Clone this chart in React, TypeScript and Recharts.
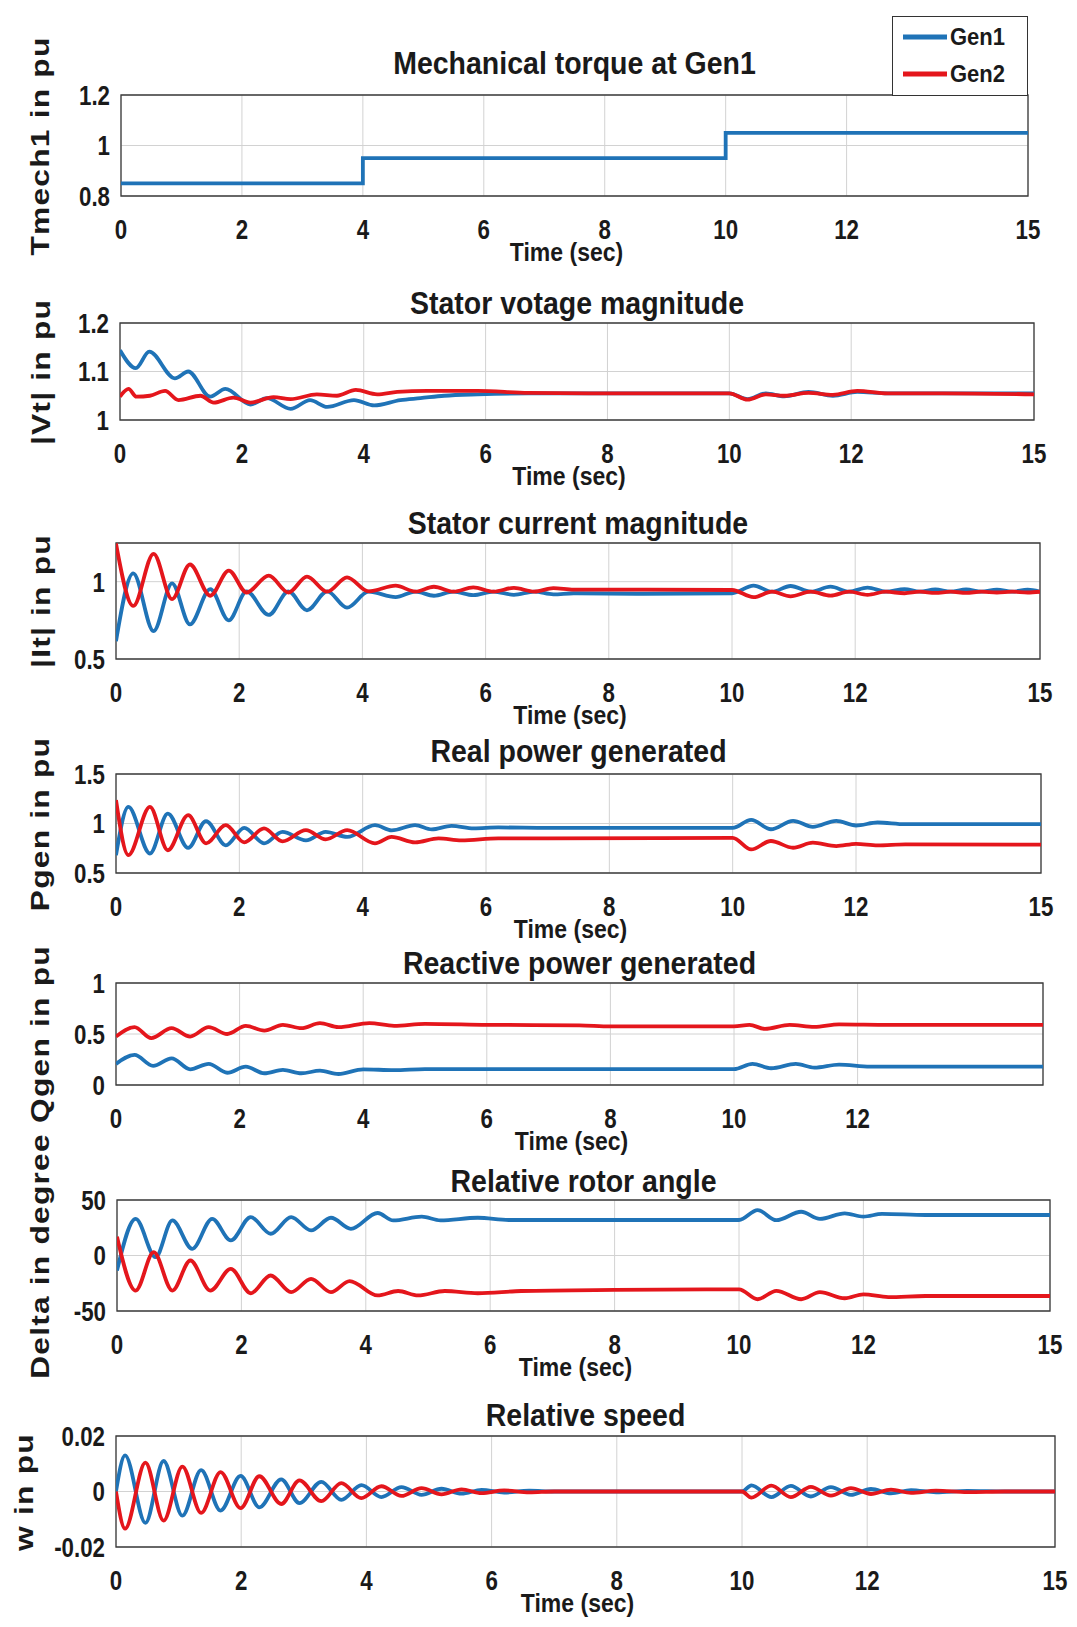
import { CartesianGrid, Line, LineChart, ReferenceArea, XAxis, YAxis } from "recharts";

type Pt = [number, number];

const BLUE = "#1f73b7";
const RED = "#e4161c";
const INK = "#1a1a1a";
const FONT = "'Liberation Sans', Arial, Helvetica, sans-serif";

// time ticks (sec)
const timeTicks = [0, 2, 4, 6, 8, 10, 12, 15];
const timeTicksQ = [0, 2, 4, 6, 8, 10, 12];

// Mechanical torque at Gen1
const tmechGen1: Pt[] = [[0, 0.85], [4, 0.95], [10, 1.05], [15, 1.05]];

// Stator voltage magnitude
const vtGen1: Pt[] = [
  [0, 1.144], [0.26, 1.107], [0.48, 1.141], [0.9, 1.086], [1.12, 1.1], [1.48, 1.048], [1.73, 1.064],
  [2.14, 1.032], [2.41, 1.045], [2.8, 1.023], [3.12, 1.041], [3.4, 1.027], [3.84, 1.041], [4.17, 1.03],
  [4.6, 1.041], [4.93, 1.045], [5.32, 1.05], [5.87, 1.053], [6.7, 1.055], [8, 1.055], [10, 1.055],
  [10.3, 1.043], [10.6, 1.055], [10.9, 1.049], [11.3, 1.058], [11.7, 1.05], [12.1, 1.058], [12.6, 1.055],
  [13.5, 1.055], [15, 1.055],
];
const vtGen2: Pt[] = [
  [0, 1.048], [0.14, 1.064], [0.27, 1.048], [0.49, 1.05], [0.74, 1.06], [0.96, 1.041], [1.32, 1.05],
  [1.54, 1.036], [1.86, 1.046], [2.14, 1.036], [2.52, 1.047], [2.8, 1.043], [3.23, 1.053], [3.56, 1.05],
  [3.87, 1.062], [4.22, 1.053], [4.55, 1.058], [5.04, 1.06], [5.87, 1.06], [6.7, 1.056], [8, 1.055],
  [10, 1.055], [10.3, 1.042], [10.6, 1.053], [10.9, 1.05], [11.3, 1.056], [11.7, 1.052], [12.1, 1.06],
  [12.6, 1.055], [13.5, 1.055], [15, 1.053],
];

// Stator current magnitude
const itGen1: Pt[] = [
  [0, 0.615], [0.28, 1.054], [0.61, 0.68], [0.91, 0.989], [1.2, 0.724], [1.53, 0.952], [1.83, 0.75],
  [2.12, 0.937], [2.48, 0.785], [2.8, 0.937], [3.1, 0.815], [3.43, 0.937], [3.75, 0.832], [4.1, 0.935],
  [4.54, 0.9], [4.86, 0.936], [5.16, 0.909], [5.48, 0.936], [5.8, 0.913], [6.13, 0.936], [6.46, 0.915],
  [6.79, 0.936], [7.1, 0.918], [7.43, 0.925], [8.5, 0.922], [10, 0.925], [10.35, 0.975], [10.65, 0.935],
  [10.95, 0.972], [11.28, 0.935], [11.6, 0.968], [11.9, 0.935], [12.2, 0.962], [12.5, 0.935], [12.8, 0.952],
  [13.05, 0.935], [13.3, 0.95], [13.55, 0.935], [13.8, 0.95], [14.05, 0.935], [14.3, 0.948], [14.55, 0.935],
  [14.8, 0.948], [15, 0.935],
];
const itGen2: Pt[] = [
  [0, 1.246], [0.28, 0.843], [0.61, 1.18], [0.91, 0.887], [1.2, 1.111], [1.53, 0.909], [1.83, 1.072],
  [2.12, 0.93], [2.48, 1.039], [2.8, 0.93], [3.1, 1.033], [3.43, 0.935], [3.75, 1.028], [4.1, 0.937],
  [4.54, 0.974], [4.86, 0.936], [5.16, 0.967], [5.48, 0.936], [5.8, 0.963], [6.13, 0.936], [6.46, 0.96],
  [6.79, 0.936], [7.1, 0.958], [7.43, 0.948], [8.5, 0.948], [10, 0.946], [10.35, 0.9], [10.65, 0.935],
  [10.95, 0.905], [11.28, 0.935], [11.6, 0.91], [11.9, 0.935], [12.2, 0.915], [12.5, 0.935], [12.8, 0.925],
  [13.05, 0.935], [13.3, 0.927], [13.55, 0.935], [13.8, 0.928], [14.05, 0.935], [14.3, 0.93], [14.55, 0.935],
  [14.8, 0.93], [15, 0.935],
];

// Real power generated
const pGen1: Pt[] = [
  [0, 0.68], [0.2, 1.168], [0.55, 0.697], [0.84, 1.1], [1.17, 0.754], [1.46, 1.024], [1.78, 0.78],
  [2.08, 0.956], [2.4, 0.8], [2.7, 0.916], [3.08, 0.83], [3.4, 0.916], [3.75, 0.865], [4.2, 0.983],
  [4.47, 0.93], [4.85, 0.983], [5.12, 0.94], [5.44, 0.976], [5.8, 0.95], [6.2, 0.96], [7, 0.955],
  [10, 0.955], [10.3, 1.037], [10.62, 0.942], [10.98, 1.027], [11.3, 0.966], [11.68, 1.027], [12, 0.98],
  [12.35, 1.01], [12.8, 0.993], [15, 0.993],
];
const pGen2: Pt[] = [
  [0, 1.236], [0.2, 0.68], [0.55, 1.168], [0.84, 0.73], [1.17, 1.084], [1.46, 0.8], [1.78, 0.983],
  [2.08, 0.81], [2.4, 0.95], [2.7, 0.82], [3.08, 0.933], [3.4, 0.84], [3.75, 0.933], [4.2, 0.8],
  [4.47, 0.865], [4.85, 0.81], [5.23, 0.85], [5.6, 0.83], [6.2, 0.85], [7, 0.85], [10, 0.855],
  [10.3, 0.738], [10.62, 0.823], [10.98, 0.755], [11.3, 0.806], [11.68, 0.772], [12, 0.795],
  [12.35, 0.78], [12.8, 0.79], [15, 0.787],
];

// Reactive power generated
const qGen1: Pt[] = [
  [0, 0.207], [0.3, 0.295], [0.6, 0.187], [0.9, 0.262], [1.2, 0.154], [1.5, 0.207], [1.8, 0.12],
  [2.1, 0.18], [2.4, 0.115], [2.7, 0.148], [3, 0.115], [3.3, 0.14], [3.6, 0.108], [4, 0.154],
  [4.5, 0.145], [5, 0.155], [7, 0.155], [10, 0.155], [10.3, 0.207], [10.6, 0.164], [11, 0.207],
  [11.3, 0.17], [11.7, 0.2], [12.2, 0.18], [15, 0.18],
];
const qGen2: Pt[] = [
  [0, 0.475], [0.3, 0.567], [0.57, 0.46], [0.9, 0.557], [1.2, 0.475], [1.5, 0.567], [1.8, 0.5],
  [2.1, 0.58], [2.4, 0.534], [2.7, 0.59], [3, 0.557], [3.3, 0.607], [3.6, 0.567], [4.1, 0.607],
  [4.5, 0.58], [5, 0.6], [6, 0.59], [7.5, 0.585], [8, 0.575], [10, 0.575], [10.25, 0.59], [10.5, 0.55],
  [10.9, 0.59], [11.3, 0.57], [11.7, 0.595], [12.5, 0.59], [15, 0.59],
];

// Relative rotor angle (degree)
const deltaGen1: Pt[] = [
  [0, -13.6], [0.3, 33], [0.62, -1.5], [0.89, 31.6], [1.21, 6], [1.53, 33], [1.83, 13.6], [2.15, 34.6],
  [2.47, 19.6], [2.8, 34.6], [3.12, 22.6], [3.44, 34], [3.76, 24], [4.19, 38.3], [4.44, 31.6], [4.9, 35],
  [5.2, 31.6], [5.8, 34], [6.3, 32], [7.6, 32], [10, 32], [10.3, 40.9], [10.6, 31.8], [11, 39.4],
  [11.3, 33], [11.7, 38], [12, 35], [12.3, 37.5], [13, 36.5], [15, 36.5],
];
const deltaGen2: Pt[] = [
  [0, 17], [0.3, -31.6], [0.59, 3], [0.89, -31.6], [1.18, -4.5], [1.5, -31.6], [1.83, -12], [2.15, -34],
  [2.47, -18], [2.8, -33], [3.12, -21], [3.44, -33], [3.74, -23], [4.19, -36], [4.52, -32], [4.84, -36],
  [5.27, -32], [5.8, -34], [6.5, -32], [8, -31], [10, -30.5], [10.3, -39.4], [10.6, -31.8], [11, -39.4],
  [11.3, -33], [11.7, -38.5], [12, -35], [12.4, -37.5], [13, -36.5], [15, -36.5],
];

// Relative speed (pu)
const wGen1: Pt[] = [
  [0, 0], [0.145, 0.013], [0.47, -0.0113], [0.76, 0.011], [1.06, -0.0087], [1.36, 0.0077],
  [1.67, -0.0069], [1.99, 0.0056], [2.29, -0.0057], [2.64, 0.0044], [2.93, -0.0042], [3.28, 0.0035],
  [3.6, -0.003], [3.92, 0.0023], [4.24, -0.002], [4.56, 0.0016], [4.88, -0.0012], [5.2, 0.001],
  [5.52, -0.0008], [5.84, 0.0006], [6.2, -0.0004], [6.6, 0.0003], [7, 0], [10, 0], [10.15, 0.0022],
  [10.47, -0.002], [10.78, 0.002], [11.1, -0.0018], [11.42, 0.0016], [11.74, -0.0012], [12.06, 0.0009],
  [12.38, -0.0007], [12.7, 0.0005], [13.1, -0.0003], [13.6, 0.0002], [14.2, 0], [15, 0],
];
const wGen2: Pt[] = [
  [0, 0], [0.145, -0.0134], [0.47, 0.0104], [0.76, -0.0105], [1.06, 0.009], [1.36, -0.0077],
  [1.67, 0.007], [1.99, -0.006], [2.29, 0.0055], [2.64, -0.0045], [2.93, 0.004], [3.28, -0.0035],
  [3.6, 0.003], [3.92, -0.0024], [4.24, 0.0019], [4.56, -0.0016], [4.88, 0.0012], [5.2, -0.001],
  [5.52, 0.0008], [5.84, -0.0006], [6.2, 0.0004], [6.6, -0.0003], [7, 0], [10, 0], [10.15, -0.0022],
  [10.47, 0.0021], [10.78, -0.002], [11.1, 0.0017], [11.42, -0.0015], [11.74, 0.0012], [12.06, -0.0009],
  [12.38, 0.0007], [12.7, -0.0005], [13.1, 0.0003], [13.6, -0.0002], [14.2, 0], [15, 0],
];

const legendNames = ["Gen1", "Gen2"];

type Panel = {
  title: string;
  ylabel: string;
  box: [number, number, number, number]; // left, top, right, bottom (px)
  titleY: number;
  labelX: number;
  yDomain: [number, number];
  yTicks: number[];
  xTicks: number[];
  gen1: Pt[];
  gen2?: Pt[];
  step?: boolean;
};

const panels: Panel[] = [
  { title: "Mechanical torque at Gen1", ylabel: "Tmech1 in pu", box: [121, 95, 1028, 196], titleY: 64, labelX: 40,
    yDomain: [0.8, 1.2], yTicks: [0.8, 1, 1.2], xTicks: timeTicks, gen1: tmechGen1, step: true },
  { title: "Stator votage magnitude", ylabel: "|Vt| in pu", box: [120, 323, 1034, 420], titleY: 304, labelX: 41,
    yDomain: [1, 1.2], yTicks: [1, 1.1, 1.2], xTicks: timeTicks, gen1: vtGen1, gen2: vtGen2 },
  { title: "Stator current magnitude", ylabel: "|It| in pu", box: [116, 543, 1040, 659], titleY: 524, labelX: 41,
    yDomain: [0.5, 1.25], yTicks: [0.5, 1], xTicks: timeTicks, gen1: itGen1, gen2: itGen2 },
  { title: "Real power generated", ylabel: "Pgen in pu", box: [116, 774, 1041, 873], titleY: 752, labelX: 40,
    yDomain: [0.5, 1.5], yTicks: [0.5, 1, 1.5], xTicks: timeTicks, gen1: pGen1, gen2: pGen2 },
  { title: "Reactive power generated", ylabel: "Qgen in pu", box: [116, 983, 1043, 1085], titleY: 964, labelX: 40,
    yDomain: [0, 1], yTicks: [0, 0.5, 1], xTicks: timeTicksQ, gen1: qGen1, gen2: qGen2 },
  { title: "Relative rotor angle", ylabel: "Delta in degree", box: [117, 1200, 1050, 1311], titleY: 1182, labelX: 40,
    yDomain: [-50, 50], yTicks: [-50, 0, 50], xTicks: timeTicks, gen1: deltaGen1, gen2: deltaGen2 },
  { title: "Relative speed", ylabel: "w in pu", box: [116, 1436, 1055, 1547], titleY: 1416, labelX: 24,
    yDomain: [-0.02, 0.02], yTicks: [-0.02, 0, 0.02], xTicks: timeTicks, gen1: wGen1, gen2: wGen2 },
];

const TOP_PAD = 40;
const AXIS_H = 80;

function XTick(props: any) {
  const { x, y, payload } = props;
  return (
    <g transform={`translate(${x},${y + 33}) scale(0.93,1.18)`}>
      <text textAnchor="middle" dominantBaseline="central" fontSize={24} fontWeight="bold" fill={INK} fontFamily={FONT}>
        {payload.value}
      </text>
    </g>
  );
}

function YTick(props: any) {
  const { x, y, payload } = props;
  return (
    <g transform={`translate(${x - 11},${y}) scale(0.93,1.18)`}>
      <text textAnchor="end" dominantBaseline="central" fontSize={24} fontWeight="bold" fill={INK} fontFamily={FONT}>
        {payload.value}
      </text>
    </g>
  );
}

const toRows = (pts: Pt[]) => pts.map(([t, v]) => ({ t, v }));

function PanelChart({ p }: { p: Panel }) {
  const [l, t, r, b] = p.box;
  const top = t - TOP_PAD;
  const height = b - t + TOP_PAD + AXIS_H;
  const cx = (l + r) / 2;
  return (
    <>
      <div style={{ position: "absolute", left: 0, top }}>
        <LineChart width={1077} height={height} margin={{ top: TOP_PAD, right: 1077 - r, bottom: 0, left: 0 }}>
          <CartesianGrid stroke="#d2d2d2" strokeWidth={1} />
          <XAxis
            type="number"
            dataKey="t"
            domain={[0, 15]}
            ticks={p.xTicks}
            interval={0}
            height={AXIS_H}
            axisLine={false}
            tickLine={false}
            tickSize={0}
            tickMargin={0}
            tick={(tp: any) => <XTick {...tp} />}
            allowDataOverflow
          />
          <YAxis
            type="number"
            domain={p.yDomain}
            ticks={p.yTicks}
            interval={0}
            width={l}
            axisLine={false}
            tickLine={false}
            tickSize={0}
            tickMargin={0}
            tick={(tp: any) => <YTick {...tp} />}
            allowDataOverflow
          />
          <ReferenceArea x1={0} x2={15} y1={p.yDomain[0]} y2={p.yDomain[1]} fill="none" stroke="#3c3c3c" strokeWidth={1.3} />
          <Line
            data={toRows(p.gen1)}
            dataKey="v"
            type={p.step ? "stepAfter" : "monotone"}
            stroke={BLUE}
            strokeWidth={3.8}
            dot={false}
            isAnimationActive={false}
          />
          {p.gen2 && (
            <Line
              data={toRows(p.gen2)}
              dataKey="v"
              type="monotone"
              stroke={RED}
              strokeWidth={3.8}
              dot={false}
              isAnimationActive={false}
            />
          )}
        </LineChart>
      </div>
      <div
        style={{
          position: "absolute", left: cx, top: p.titleY, transform: "translate(-50%,-50%) scale(1,1.08)",
          fontFamily: FONT, fontWeight: "bold", fontSize: 28.5, color: INK, whiteSpace: "nowrap",
        }}
      >
        {p.title}
      </div>
      <div
        style={{
          position: "absolute", left: cx - 8, top: b + 57, transform: "translate(-50%,-50%) scale(1,1.12)",
          fontFamily: FONT, fontWeight: "bold", fontSize: 23, color: INK, whiteSpace: "nowrap",
        }}
      >
        Time (sec)
      </div>
      <div
        style={{
          position: "absolute", left: p.labelX, top: (t + b) / 2, transform: "translate(-50%,-50%) rotate(-90deg) scale(1.22,1)",
          fontFamily: FONT, fontWeight: "bold", fontSize: 26, color: INK, whiteSpace: "nowrap", letterSpacing: 1,
        }}
      >
        {p.ylabel}
      </div>
    </>
  );
}

function LegendBox() {
  const colors = [BLUE, RED];
  return (
    <div
      style={{
        position: "absolute", left: 892, top: 16, width: 136, height: 80, border: "1.5px solid #333",
        background: "#fff", boxSizing: "border-box", zIndex: 2,
      }}
    >
      {legendNames.map((n, i) => (
        <div key={n} style={{ position: "absolute", left: 10, top: 7 + i * 37, height: 26, display: "flex", alignItems: "center" }}>
          <svg width={44} height={6}>
            <line x1={0} y1={3} x2={44} y2={3} stroke={colors[i]} strokeWidth={5} />
          </svg>
          <span style={{ fontFamily: FONT, fontWeight: "bold", fontSize: 22, color: INK, marginLeft: 3, display: "inline-block", transform: "scale(1,1.12)" }}>
            {n}
          </span>
        </div>
      ))}
    </div>
  );
}

export default function App() {
  return (
    <div style={{ position: "absolute", left: 0, top: 0, width: 1077, height: 1627, background: "#fff", overflow: "hidden" }}>
      {panels.map((p) => (
        <PanelChart key={p.title} p={p} />
      ))}
      <LegendBox />
    </div>
  );
}
